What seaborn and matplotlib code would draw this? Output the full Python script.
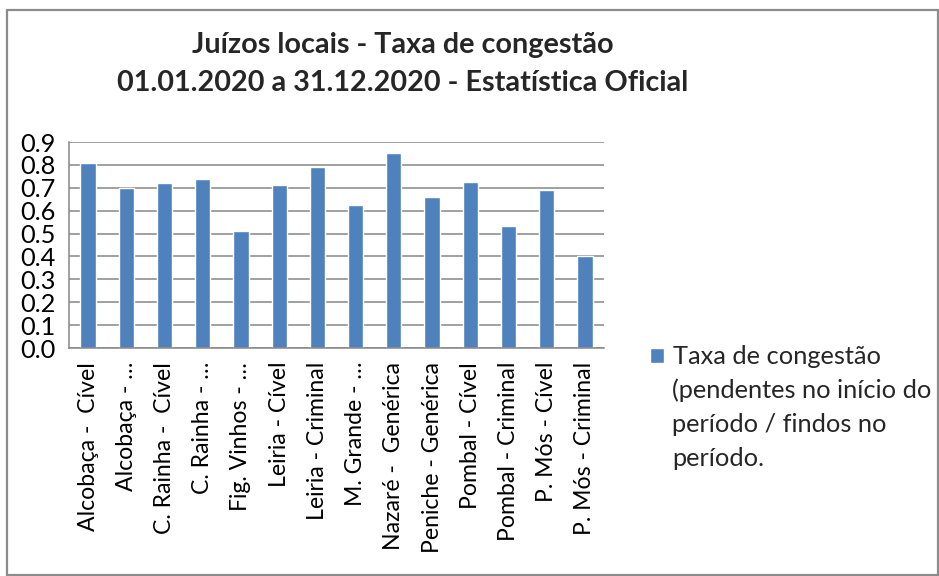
import matplotlib
matplotlib.use("Agg")
import matplotlib.pyplot as plt
import matplotlib.ticker as mticker
from matplotlib.patches import Rectangle
import seaborn as sns

# Court units and their congestion rate for 2020
categories = [
    "Alcobaça -  Cível",
    "Alcobaça - …",
    "C. Rainha -  Cível",
    "C. Rainha - …",
    "Fig. Vinhos - …",
    "Leiria - Cível",
    "Leiria - Criminal",
    "M. Grande - …",
    "Nazaré -  Genérica",
    "Peniche - Genérica",
    "Pombal - Cível",
    "Pombal - Criminal",
    "P. Mós - Cível",
    "P. Mós - Criminal",
]
taxa = [0.81, 0.70, 0.72, 0.74, 0.51, 0.71, 0.79, 0.625,
        0.85, 0.66, 0.725, 0.535, 0.69, 0.40]

y_ticks = [0.0, 0.1, 0.2, 0.3, 0.4, 0.5, 0.6, 0.7, 0.8, 0.9]

title_lines = [
    "Juízos locais - Taxa de congestão",
    "01.01.2020 a 31.12.2020 - Estatística Oficial",
]
legend_lines = [
    "Taxa de congestão",
    "(pendentes no início do",
    "período / findos no",
    "período.",
]

BAR = "#4F81BD"
GRID = "#868686"
W, H = 939, 576
FS = 18.3
FS_X = 16.6

sns.set_theme(style="white")
plt.rcParams["font.family"] = ["Lato", "DejaVu Sans"]


def fx(px):
    return px / W


def fy(py):
    return 1 - py / H


fig = plt.figure(figsize=(W / 100, H / 100), dpi=100)
fig.patch.set_facecolor("white")

# chart area outline
fig.patches.append(Rectangle((fx(7), fy(575)), fx(938) - fx(7), fy(10) - fy(575),
                             transform=fig.transFigure, fill=False,
                             edgecolor="#8C8C8C", linewidth=1.6))

ax = fig.add_axes([fx(69), fy(348), fx(604) - fx(69), fy(142) - fy(348)])

sns.barplot(x=categories, y=taxa, color=BAR, saturation=1, width=0.4, ax=ax,
            label=legend_lines[0])

ax.set_xlim(-0.5, len(categories) - 0.5)
ax.set_ylim(0, 0.9)
ax.set_yticks(y_ticks)
ax.yaxis.set_major_formatter(mticker.FormatStrFormatter("%.1f"))
ax.set_xlabel("")
ax.set_ylabel("")

ax.set_axisbelow(True)
ax.yaxis.grid(True, color=GRID, linewidth=1.1)
ax.xaxis.grid(False)

for side in ("top", "right"):
    ax.spines[side].set_visible(False)
for side in ("left", "bottom"):
    ax.spines[side].set_color(GRID)
    ax.spines[side].set_linewidth(1.1)

# category boundary tick marks below the axis
ax.set_xticks([i - 0.5 for i in range(len(categories) + 1)], minor=True)
ax.tick_params(axis="x", which="minor", length=7, width=1.1, color=GRID, direction="out")
ax.tick_params(axis="x", which="major", length=0, pad=10, labelsize=FS_X,
               labelrotation=90, labelcolor="black")
ax.tick_params(axis="y", which="major", length=6, width=1.1, color=GRID,
               direction="out", pad=3.5, labelsize=FS, labelcolor="black")
for lbl in ax.get_xticklabels():
    lbl.set_verticalalignment("top")
    lbl.set_horizontalalignment("center")

if ax.get_legend():
    ax.get_legend().remove()
leg = fig.legend(loc="center left", bbox_to_anchor=(fx(650), fy(357)),
                 frameon=False, fontsize=FS, handlelength=0.55, handleheight=0.55,
                 handletextpad=0.35, borderaxespad=0, borderpad=0)
for i, line in enumerate(legend_lines[1:], start=1):
    fig.text(fx(672), fy(357 + 33.7 * i), line, fontsize=FS, va="center", ha="left")

fig.text(fx(403), fy(45), title_lines[0], ha="center", va="center",
         fontsize=20.7, fontweight="bold")
fig.text(fx(403), fy(83), title_lines[1], ha="center", va="center",
         fontsize=20.7, fontweight="bold")

fig.savefig("out.png", dpi=100)
